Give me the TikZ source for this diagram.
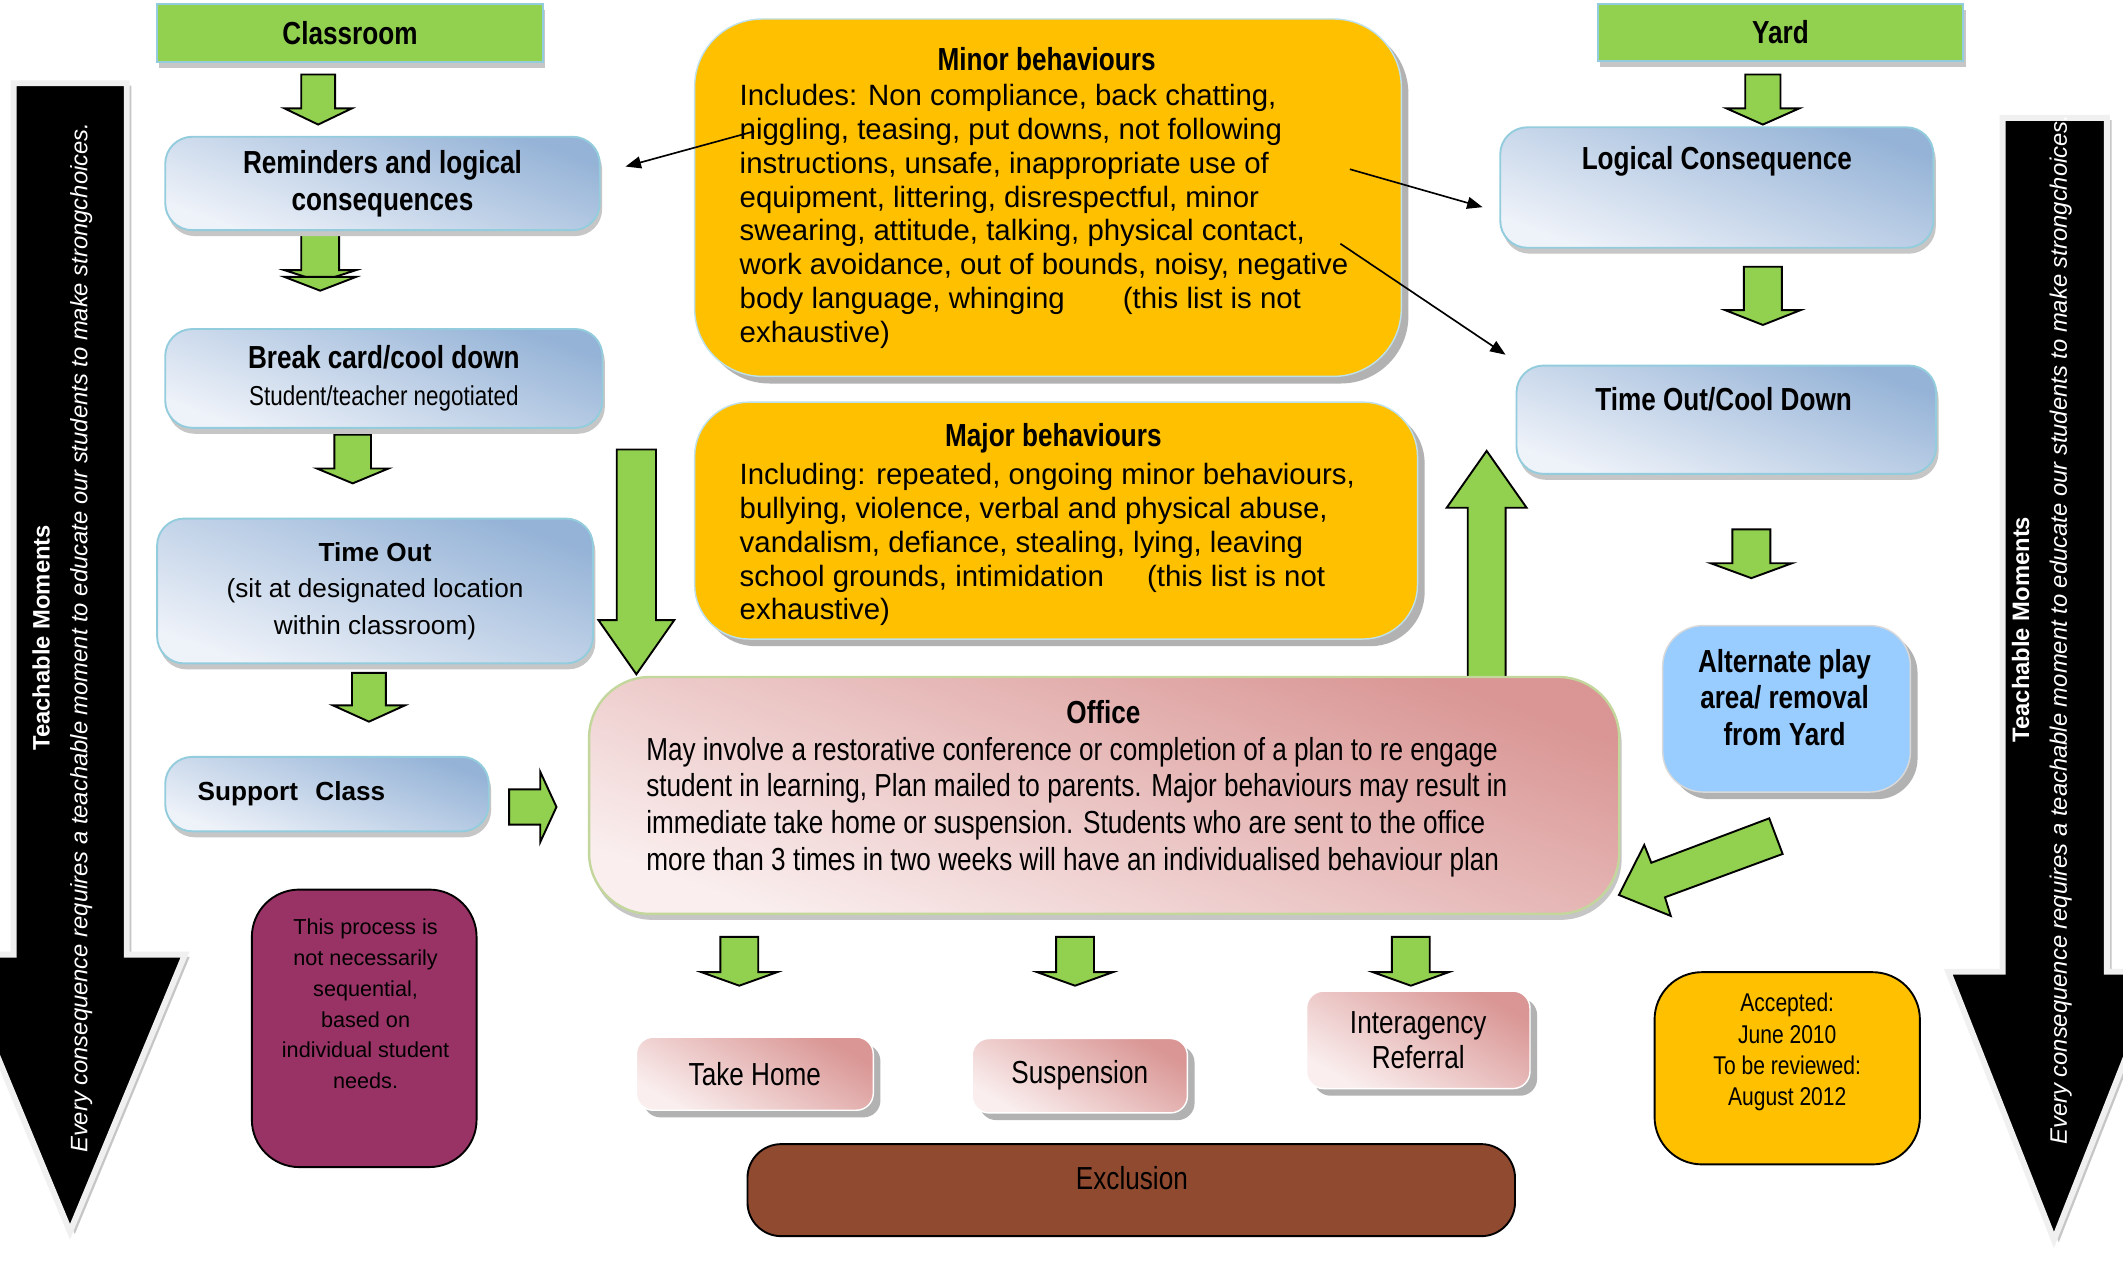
\documentclass[tikz,border=0pt]{standalone}
\usepackage{fontspec}
\setmainfont{Liberation Sans}
\newfontfamily\narrowfont{Liberation Sans}[FakeStretch=0.82]
\usetikzlibrary{positioning, arrows.meta, shadows}

\definecolor{leafgreen}{HTML}{92D050}
\definecolor{amber}{HTML}{FFC000}
\definecolor{steelblue}{HTML}{95B3D7}
\definecolor{paleblue}{HTML}{EEF2F9}
\definecolor{aquaedge}{HTML}{93CDDD}
\definecolor{rosedark}{HTML}{D99694}
\definecolor{roselight}{HTML}{FAEEEE}
\definecolor{sageedge}{HTML}{C3D69B}
\definecolor{plum}{HTML}{993366}
\definecolor{brick}{HTML}{904A30}
\definecolor{skyblue}{HTML}{99CCFF}

% fonts used in the boxes
\newcommand{\fhead}{\narrowfont\bfseries\fontsize{13.4pt}{15.4pt}\selectfont}
\newcommand{\fsub}{\narrowfont\mdseries\fontsize{11.5pt}{14pt}\selectfont}
\newcommand{\fbody}{\narrowfont\fontsize{13.4pt}{14.8pt}\selectfont}
\newcommand{\foffice}{\narrowfont\fontsize{13.4pt}{15.4pt}\selectfont}
\newcommand{\flist}{\fontsize{12.35pt}{14.2pt}\selectfont}
\newcommand{\fplain}{\fontsize{11pt}{15.4pt}\selectfont}
\newcommand{\fnote}{\fontsize{9.1pt}{12.9pt}\selectfont}
\newcommand{\fdate}{\narrowfont\fontsize{10.8pt}{13.1pt}\selectfont}
\newcommand{\fside}{\fontsize{10pt}{15.9pt}\selectfont}

% green block arrows: centre, base, head start, tip, half shaft, half head
\newcommand{\blockdown}[6]{%
  \draw[greenblock] (#1-#5,#2) -- (#1+#5,#2) -- (#1+#5,#3) -- (#1+#6,#3)
    -- (#1,#4) -- (#1-#6,#3) -- (#1-#5,#3) -- cycle;}
\newcommand{\blockright}[6]{%
  \draw[greenblock] (#2,#1-#5) -- (#3,#1-#5) -- (#3,#1-#6) -- (#4,#1)
    -- (#3,#1+#6) -- (#3,#1+#5) -- (#2,#1+#5) -- cycle;}

\begin{document}
\begin{tikzpicture}[
    x=0.02cm, y=-0.02cm,
    softshadow/.style={drop shadow={shadow xshift=1pt, shadow yshift=-2.5pt, fill=gray!45, opacity=1}},
    hardshadow/.style={drop shadow={shadow xshift=3pt, shadow yshift=-3pt, fill=gray!60, opacity=1}},
    headbox/.style={
        rectangle,
        fill=leafgreen,
        draw=aquaedge,
        line width=0.8pt,
        softshadow,
        font=\fhead
    },
    stepbox/.style={
        rectangle,
        rounded corners=0.4cm,
        draw=aquaedge,
        line width=0.8pt,
        top color=steelblue,
        bottom color=paleblue,
        shading angle=-20,
        softshadow,
        align=center,
        font=\fhead
    },
    behaviourbox/.style={
        rectangle,
        fill=amber,
        draw=aquaedge!60,
        line width=0.6pt,
        hardshadow
    },
    officebox/.style={
        rectangle,
        rounded corners=0.9cm,
        draw=sageedge,
        line width=1pt,
        top color=rosedark,
        bottom color=roselight,
        shading angle=-20,
        softshadow
    },
    outcomebox/.style={
        rectangle,
        rounded corners=0.25cm,
        draw=white,
        line width=0.6pt,
        top color=rosedark,
        bottom color=roselight,
        shading angle=-30,
        hardshadow,
        align=center,
        font=\fbody
    },
    playbox/.style={rectangle, rounded corners=0.6cm, fill=skyblue, draw=gray!30, line width=0.6pt, hardshadow},
    notebox/.style={rectangle, rounded corners=0.7cm, draw=black, line width=0.8pt},
    exclbox/.style={rectangle, rounded corners=0.5cm, fill=brick, draw=black, line width=0.8pt},
    greenblock/.style={fill=leafgreen, draw=black, line width=0.8pt, line join=miter},
    pointer/.style={-{Triangle[length=6.5pt, width=5pt]}, line width=0.7pt},
    teacharrow/.style={
        fill=black,
        draw=gray!12,
        line width=2.5pt,
        line join=miter,
        drop shadow={shadow xshift=2pt, shadow yshift=-1pt, fill=gray!45, opacity=1}
    },
    titletext/.style={inner sep=0pt, font=\fhead},
    listtext/.style={inner sep=0pt, align=left, font=\flist},
    sidetext/.style={inner sep=0pt, align=center, rotate=90, text=white, font=\fside}
]

    \useasboundingbox[fill=white] (0,0) rectangle (1568,933);
    \clip (0,0) rectangle (1568,933);

    % Teachable moments arrows
    \draw[teacharrow] (10,61.5) -- (93.6,61.5) -- (93.6,705) -- (136.6,705)
        -- (51.7,909.7) -- (-33,705) -- (10,705) -- cycle;
    \node[sidetext] (lefttext) at (46,471) {{\bfseries Teachable Moments}\\
        {\itshape Every consequence requires a teachable moment to educate our students to make strongchoices.}};
    \draw[teacharrow] (1479,87) -- (1556,87) -- (1556,717.7) -- (1595,717.7)
        -- (1517,915.8) -- (1439,717.7) -- (1479,717.7) -- cycle;
    \node[sidetext] (righttext) at (1508,465) {{\bfseries Teachable Moments}\\
        {\itshape Every consequence requires a teachable moment to educate our students to make strongchoices.}};

    % Green arrows
    \blockdown{235}{55}{80}{92}{12.5}{25}
    \blockdown{236.5}{172}{199.5}{208}{14}{26.5}
    \draw[greenblock] (210,204.5) -- (263,204.5) -- (236.5,214.7) -- cycle;
    \blockdown{260.5}{321}{346}{357}{13.5}{26.5}
    \blockdown{272.5}{497}{521}{533}{12.5}{26.5}
    \blockdown{470}{332}{458}{498}{14.5}{28}
    \blockright{596}{376}{399}{411}{13}{26}
    \blockdown{1302}{55}{80}{92}{13}{27}
    \blockdown{1302}{197}{229}{240}{14}{28}
    \blockdown{1293.5}{391}{416}{427}{14}{30}
    \blockdown{1098}{500}{375}{333}{14}{29.5}
    \blockdown{546}{692}{718}{728}{14}{28}
    \blockdown{794}{692}{718}{728}{14}{28}
    \blockdown{1042}{692}{718}{728}{14}{28}

    % Headers
    \node[headbox, minimum width=5.7cm, minimum height=0.86cm] (classroom) at (258.5,24.5) {Classroom};
    \node[headbox, minimum width=5.4cm, minimum height=0.84cm] (yard) at (1315,24) {Yard};

    % Classroom steps
    \node[stepbox, minimum width=6.42cm, minimum height=1.38cm] (remind) at (282.5,135.5) {Reminders and logical\\consequences};
    \node[stepbox, minimum width=6.46cm, minimum height=1.46cm] (breakcard) at (283.5,279.5) {Break card/cool down\\{\fsub Student/teacher negotiated}};
    \node[stepbox, minimum width=6.44cm, minimum height=2.14cm, font=\fplain] (timeout) at (277,436.5) {{\bfseries Time Out}\\(sit at designated location\\within classroom)};
    \node[stepbox, minimum width=4.78cm, minimum height=1.1cm, font=\fplain\bfseries, align=left, text width=3.82cm, inner xsep=0.48cm] (support) at (241.5,586.5) {Support\ \ Class};

    % Yard steps
    \node[stepbox, minimum width=6.4cm, minimum height=1.78cm] (logic) at (1268,138.5) {};
    \node[titletext] (logictext) at (1268,119) {Logical Consequence};
    \node[stepbox, minimum width=6.2cm, minimum height=1.6cm] (cooldown) at (1275,310) {};
    \node[titletext] (cooltext) at (1273,295) {Time Out/Cool Down};
    \node[playbox, minimum width=3.66cm, minimum height=2.46cm] (altplay) at (1319.5,523.5) {};
    \node[titletext, align=center] (alttext) at (1318,515) {Alternate play\\area/ removal\\from Yard};

    % Behaviour lists
    \node[behaviourbox, rounded corners=1cm, minimum width=10.44cm, minimum height=5.28cm] (minor) at (774,146) {};
    \node[titletext] (minortitle) at (773,44) {Minor behaviours};
    \node[listtext, anchor=north west] (minorlist) at (546,62) {Includes: Non compliance, back chatting,\\
        niggling, teasing, put downs, not following\\
        instructions, unsafe, inappropriate use of\\
        equipment, littering, disrespectful, minor\\
        swearing, attitude, talking, physical contact,\\
        work avoidance, out of bounds, noisy, negative\\
        body language, whinging\hspace{0.86cm}(this list is not\\
        exhaustive)};
    \node[behaviourbox, rounded corners=0.8cm, minimum width=10.68cm, minimum height=3.5cm] (major) at (780,384.5) {};
    \node[titletext] (majortitle) at (778,324) {Major behaviours};
    \node[listtext, anchor=north west] (majorlist) at (546,342) {Including: repeated, ongoing minor behaviours,\\
        bullying, violence, verbal and physical abuse,\\
        vandalism, defiance, stealing, lying, leaving\\
        school grounds, intimidation\hspace{0.64cm}(this list is not\\
        exhaustive)};

    % Office and what can follow
    \node[officebox, minimum width=15.22cm, minimum height=3.5cm] (office) at (815.5,587.5) {};
    \node[titletext] (officetitle) at (815,526) {Office};
    \node[listtext, font=\foffice, anchor=north west] (officelist) at (477,544) {May involve a restorative conference or completion of a plan to re engage\\
        student in learning, Plan mailed to parents. Major behaviours may result in\\
        immediate take home or suspension. Students who are sent to the office\\
        more than 3 times in two weeks will have an individualised behaviour plan};
    \draw[greenblock] (1306.7,604.4) -- (1316.6,630.7) -- (1229.7,662.7) -- (1234,676.5)
        -- (1195.7,661) -- (1214.4,624.1) -- (1219.6,637.2) -- cycle;
    \node[outcomebox, minimum width=3.5cm, minimum height=1.08cm] (takehome) at (557.5,793) {Take Home};
    \node[outcomebox, minimum width=3.18cm, minimum height=1.1cm] (suspension) at (797.5,794.5) {Suspension};
    \node[outcomebox, minimum width=3.3cm, minimum height=1.44cm] (interagency) at (1047.5,768) {Interagency\\Referral};
    \node[exclbox, minimum width=11.34cm, minimum height=1.36cm] (exclusion) at (835.5,879) {};
    \node[inner sep=0pt, font=\fbody] (excltext) at (836,870) {Exclusion};

    % Side notes
    \node[notebox, fill=plum, minimum width=3.32cm, minimum height=4.1cm] (process) at (269,759.5) {};
    \node[inner sep=0pt, align=center, font=\fnote] (processtext) at (270,741.5) {This process is\\not necessarily\\sequential,\\based on\\individual student\\needs.};
    \node[notebox, fill=amber, minimum width=3.92cm, minimum height=2.84cm] (accepted) at (1320,789) {};
    \node[inner sep=0pt, align=center, font=\fdate] (acceptedtext) at (1320,777) {Accepted:\\June 2010\\To be reviewed:\\August 2012};

    % Pointers from the minor list
    \coordinate (minorleft) at (557,97);
    \coordinate (remindin) at (462,123);
    \coordinate (minorright) at (997,125);
    \coordinate (logicin) at (1095,153);
    \coordinate (minorlow) at (990,180);
    \coordinate (coolin) at (1112,262);
    \draw[pointer] (minorleft) -- (remindin);
    \draw[pointer] (minorright) -- (logicin);
    \draw[pointer] (minorlow) -- (coolin);

\end{tikzpicture}
\end{document}
